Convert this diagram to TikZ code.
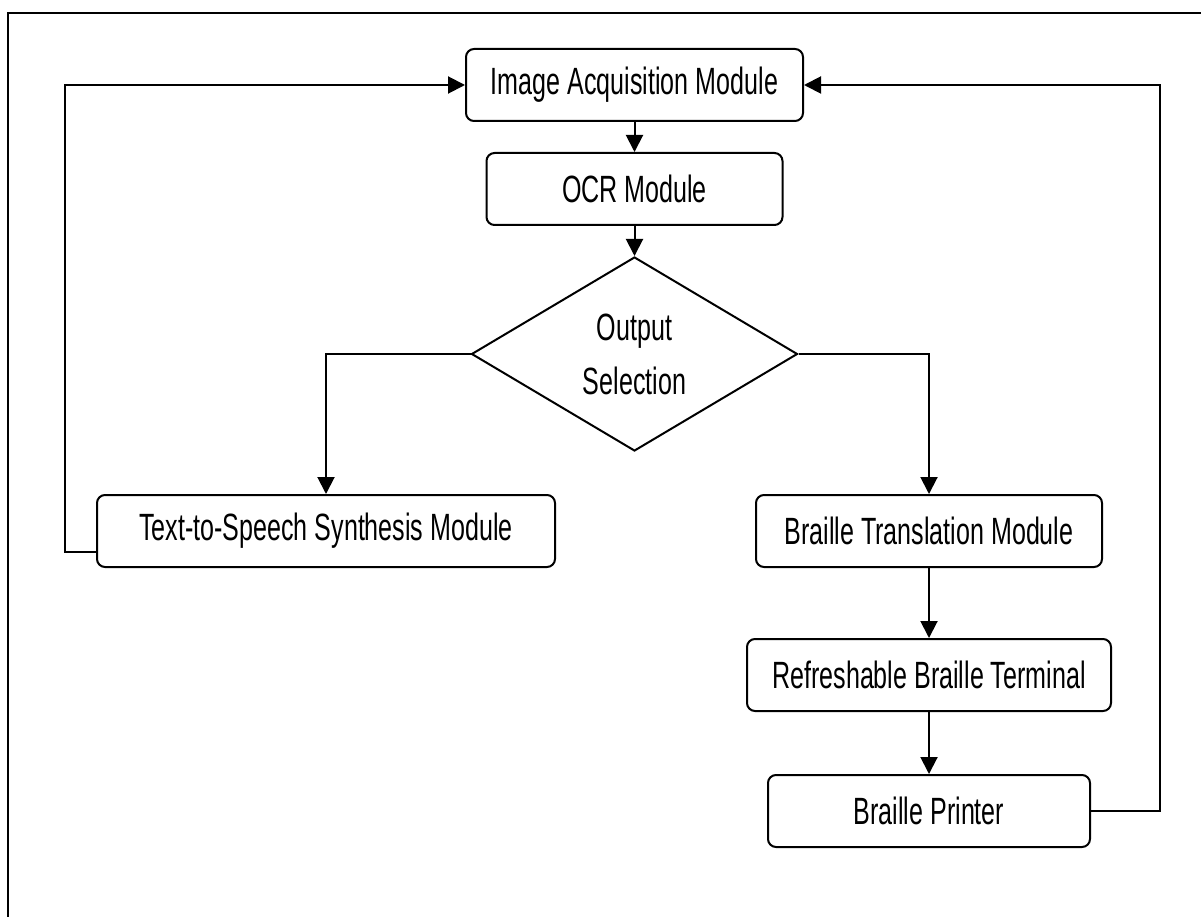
\documentclass[tikz,border=0pt]{standalone}
\usepackage{fontspec}
\setmainfont[FakeStretch=0.66]{Liberation Sans}
\usetikzlibrary{shapes.geometric,arrows.meta}
\tikzset{
	modulo/.style={draw, line width=2pt, rounded corners=8pt, minimum height=72pt, inner sep=0pt, font=\fontsize{38}{45}\selectfont},
	flecha/.style={line width=2pt, -{Triangle[length=17pt,width=17pt]}}
}
\begin{document}
\begin{tikzpicture}[x=1pt,y=-1pt]
	\useasboundingbox (0,0) rectangle (1201,917);
	\draw[line width=2.6pt] (1215,13) -- (8,13) -- (8,930); %marco
	\node[modulo, minimum width=337pt] (adq) at (634.5,85) {Image Acquisition Module};
	\node[modulo, minimum width=296pt] (ocr) at (634.5,189) {OCR Module};
	\node[draw, diamond, line width=2pt, minimum width=326pt, minimum height=194pt, inner sep=0pt, align=center, font=\fontsize{38}{45}\selectfont] (sel) at (634.5,354) {Output\\[9pt]Selection};
	\node[modulo, minimum width=458pt] (tts) at (326,531) {Text-to-Speech Synthesis Module};
	\node[modulo, minimum width=346pt] (tra) at (929,531) {Braille Translation Module};
	\node[modulo, minimum width=364pt] (ter) at (929,675) {Refreshable Braille Terminal};
	\node[modulo, minimum width=322pt] (imp) at (929,811) {Braille Printer};
	\draw[flecha] (adq) -- (ocr);
	\draw[flecha] (ocr) -- (sel);
	\draw[flecha] (sel.west) -| (tts.north); %voz
	\draw[flecha] (sel.east) -| (tra.north); %braille
	\draw[flecha] (tra) -- (ter);
	\draw[flecha] (ter) -- (imp);
	\draw[flecha] ([yshift=-21pt]tts.west) -- ++(-31,0) |- (adq.west); %retorno izquierdo
	\draw[flecha] (imp.east) -- ++(69,0) |- (adq.east); %retorno derecho
\end{tikzpicture}
\end{document}
